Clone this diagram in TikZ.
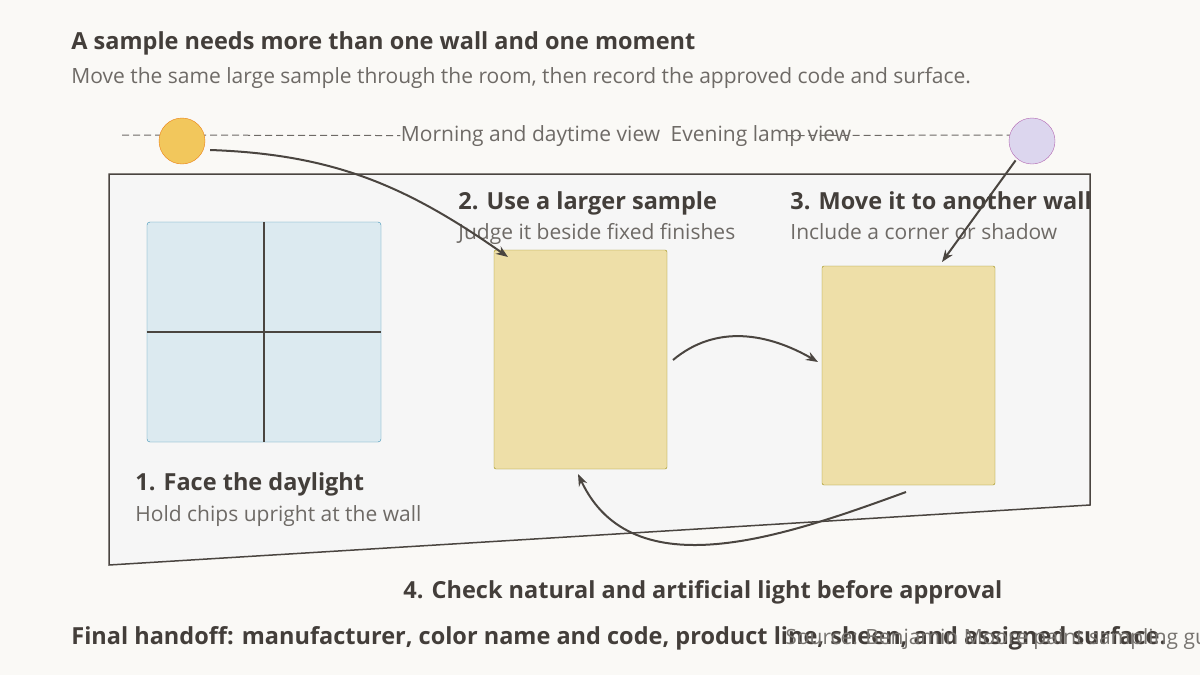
\documentclass[tikz,border=0pt]{standalone}
\usepackage{fontspec}
\setmainfont{Open Sans}
\usetikzlibrary{arrows.meta}
\definecolor{ink}{HTML}{4A4540}
\definecolor{paper}{HTML}{FAF9F6}
\definecolor{sunfill}{HTML}{F2C75C}
\definecolor{lampfill}{HTML}{DCD6EE}
\definecolor{chip}{HTML}{EEDFA8}
\definecolor{glass}{HTML}{DCEAF0}
\begin{document}
\begin{tikzpicture}[x=1pt, y=-1pt, >=Stealth, thick,
    head/.style = {anchor=base west, font=\fontsize{23.5}{27}\selectfont\bfseries, text=ink!90!black, inner sep=0},
    sub/.style = {anchor=base west, font=\fontsize{21}{25}\selectfont, text=ink!80, inner sep=0},
    sample/.style = {draw=olive!80!brown, fill=chip, rounded corners=2pt, thin},
    link/.style = {->, draw=ink, line width=2pt}]
    % Frame
    \fill[paper] (0,0) rectangle (1200,675);
    \useasboundingbox (0,0) rectangle (1200,675);
    \node[head] (title) at (71,49) {A sample needs more than one wall and one moment};
    \node[sub] (subtitle) at (71,83) {Move the same large sample through the room, then record the approved code and surface.};

    % Light line
    \node[sub, anchor=base] (views) at (626,141) {Morning and daytime view\enspace Evening lamp view};
    \draw[dash pattern=on 7pt off 4pt, ink!80, line width=1pt] (122,135) -- (views.west);
    \draw[dash pattern=on 7pt off 4pt, ink!80, line width=1pt] (views.east) ++(-65,0) coordinate (c) (c) -- (1010,135);
    \node[circle, draw=orange!70!brown, fill=sunfill, minimum size=46pt, thin] (sun) at (182,141) {};
    \node[circle, draw=violet!60, fill=lampfill, minimum size=46pt, thin] (lamp) at (1032,141) {};

    % Room
    \draw[ink, fill=black!3.5, line width=1.5pt] (109,174) -- (1090,174) -- (1090,505) -- (109,565) -- cycle;
    \node[draw=cyan!40!teal, fill=glass, rounded corners=3pt, thin, minimum width=234pt, minimum height=220pt] (window) at (264,332) {};
    \draw[ink, line width=2pt] (window.north) -- (window.south);
    \draw[ink, line width=2pt] (window.west) -- (window.east);
    \node[sample, minimum width=173pt, minimum height=219pt] (big) at (580.5,359.5) {};
    \node[sample, minimum width=173pt, minimum height=219pt] (wall) at (908.5,375.5) {};

    % Labels
    \node[head] (h1) at (135,490) {1. Face the daylight};
    \node[sub] (s1) at (135,521) {Hold chips upright at the wall};
    \node[head] (h2) at (458,209) {2. Use a larger sample};
    \node[sub] (s2) at (458,239) {Judge it beside fixed finishes};
    \node[head] (h3) at (790,209) {3. Move it to another wall};
    \node[sub] (s3) at (790,239) {Include a corner or shadow};
    \node[head] (h4) at (403,598) {4. Check natural and artificial light before approval};

    % Edges
    \draw[link] (sun.east) ++(5,9) coordinate (a) (a) to[out=-2, in=145] (508,257);
    \draw[link] (lamp.south west) ++(0,3) coordinate (b) (b) -- (942,262);
    \draw[link] (673,360) to[out=40, in=150] (818,362);
    \draw[link] (906,492) to[out=200, in=-65] (578,474);

    \node[head] (handoff) at (71,644) {Final handoff: manufacturer, color name and code, product line, sheen, and assigned surface.};
    \node[sub, text=ink!75] (source) at (785,644) {Source: Benjamin Moore paint sampling guide};
\end{tikzpicture}
\end{document}
